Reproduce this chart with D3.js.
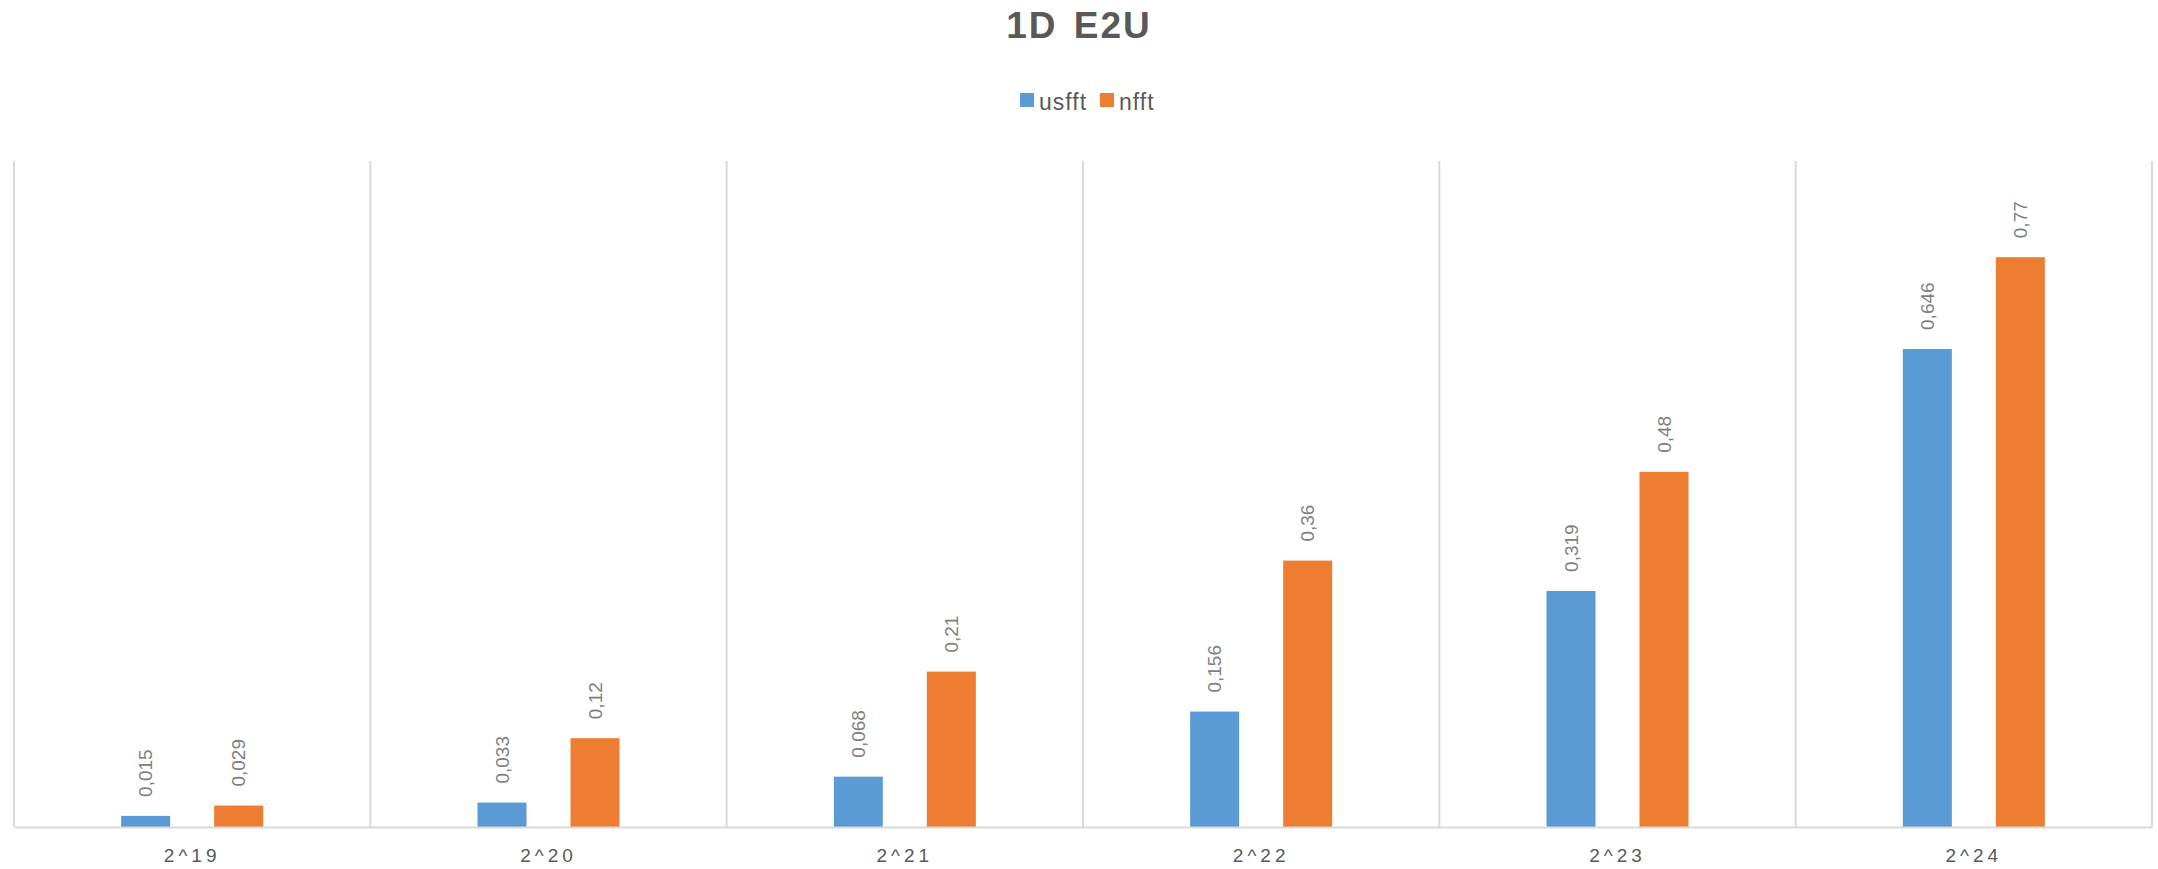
<!DOCTYPE html>
<html>
<head>
<meta charset="utf-8">
<script src="https://cdn.jsdelivr.net/npm/d3@7"></script>
<style>
  body { margin: 0; background: #fff; }
  text { font-family: "Liberation Sans", Arial, sans-serif; }
</style>
</head>
<body>
<script>
// chart data
const categories = ["2^19", "2^20", "2^21", "2^22", "2^23", "2^24"];
const seriesNames = ["usfft", "nfft"];
const usfft = [0.015, 0.033, 0.068, 0.156, 0.319, 0.646];
const nfft = [0.029, 0.12, 0.21, 0.36, 0.48, 0.77];
const yMax = 0.9;

const colors = {usfft: "#5B9BD5", nfft: "#ED7D31"};
const W = 2158, H = 869;
const plot = {left: 14, right: 2152, top: 161, bottom: 827};

const svg = d3.select("body").append("svg")
    .attr("width", W)
    .attr("height", H);

// scales
var x0 = d3.scaleBand().domain(categories).range([plot.left, plot.right]);
var x1 = d3.scaleBand().domain(seriesNames)
    .range([0, x0.bandwidth()])
    .paddingInner(0.473)
    .paddingOuter(1.152);
var y = d3.scaleLinear().domain([0, yMax]).range([plot.bottom, plot.top]);

const rows = categories.map((c, i) => ({cat: c, usfft: usfft[i], nfft: nfft[i]}));

// vertical category gridlines (at band edges)
const edges = categories.map(c => x0(c)).concat([plot.right]);
svg.append("g").selectAll("line")
    .data(edges)
    .enter().append("line")
    .attr("x1", d => d).attr("x2", d => d)
    .attr("y1", plot.top).attr("y2", plot.bottom)
    .attr("stroke", "#D9D9D9")
    .attr("stroke-width", 2);

// bars
const groups = svg.append("g").selectAll("g")
    .data(rows)
    .enter().append("g")
    .attr("transform", d => "translate(" + x0(d.cat) + ",0)");

groups.selectAll("rect")
    .data(d => seriesNames.map(k => ({key: k, value: d[k]})))
    .enter().append("rect")
    .attr("x", d => x1(d.key))
    .attr("width", x1.bandwidth())
    .attr("y", d => y(d.value))
    .attr("height", d => y(0) - y(d.value))
    .attr("fill", d => colors[d.key]);

// data labels, rotated
groups.selectAll("text")
    .data(d => seriesNames.map(k => ({key: k, value: d[k]})))
    .enter().append("text")
    .attr("transform", d => "translate(" + (x1(d.key) + x1.bandwidth() / 2) + "," + (y(d.value) - 19) + ") rotate(-90)")
    .attr("dy", "0.35em")
    .attr("text-anchor", "start")
    .attr("fill", "#7F7F7F")
    .style("font-size", "19px")
    .text(d => String(d.value).replace(".", ","));

// category axis
const xAxis = svg.append("g")
    .attr("transform", "translate(0," + plot.bottom + ")")
    .call(d3.axisBottom(x0).tickSize(0).tickPadding(22));
xAxis.select(".domain")
    .attr("stroke", "#D9D9D9")
    .attr("stroke-width", 2);
xAxis.selectAll("text")
    .attr("fill", "#595959")
    .style("font-size", "19px")
    .style("letter-spacing", "4px")
    .style("font-family", "'Liberation Sans', Arial, sans-serif");

// title
svg.append("text")
    .attr("x", W / 2)
    .attr("y", 38)
    .attr("text-anchor", "middle")
    .attr("fill", "#595959")
    .style("font-size", "37px")
    .style("font-weight", "bold")
    .style("letter-spacing", "2px")
    .style("word-spacing", "4px")
    .text("1D E2U");

// legend
const legendPos = [1020, 1100];
const legend = svg.append("g").selectAll("g")
    .data(seriesNames)
    .enter().append("g")
    .attr("transform", (d, i) => "translate(" + legendPos[i] + ",93)");
legend.append("rect")
    .attr("width", 14).attr("height", 14)
    .attr("fill", d => colors[d]);
legend.append("text")
    .attr("x", 19)
    .attr("y", 17)
    .attr("fill", "#595959")
    .style("font-size", "23px")
    .style("letter-spacing", "1px")
    .text(d => d);
</script>
</body>
</html>
